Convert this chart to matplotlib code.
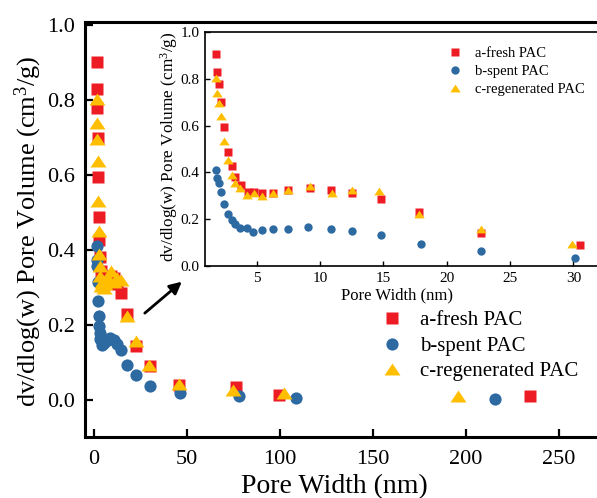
import matplotlib
matplotlib.use("Agg")
import matplotlib.pyplot as plt

plt.rcParams['font.family'] = ['Liberation Serif', 'DejaVu Serif']
plt.rcParams['mathtext.fontset'] = 'custom'
plt.rcParams['mathtext.rm'] = 'Liberation Serif'
plt.rcParams['mathtext.it'] = 'Liberation Serif:italic'

# ---- data (pore width nm, dv/dlog(w) pore volume cm3/g) ----
fresh_x = [1.77, 1.90, 2.03, 2.19, 2.40, 2.74, 3.06, 3.32, 3.74, 4.35, 4.75, 5.42, 6.31, 7.50, 9.20,
           10.86, 12.54, 14.80, 17.79, 22.67, 30.55, 45.8, 76.8, 99.6, 234.8]
fresh_y = [0.903, 0.829, 0.779, 0.700, 0.595, 0.488, 0.427, 0.382, 0.345, 0.318, 0.316, 0.311, 0.314,
           0.325, 0.332, 0.325, 0.311, 0.285, 0.230, 0.144, 0.090, 0.040, 0.034, 0.015, 0.011]

spent_x = [1.77, 1.90, 2.03, 2.16, 2.43, 2.74, 3.06, 3.32, 3.69, 4.21, 4.74, 5.45, 6.31, 7.50, 9.07,
           10.86, 12.54, 14.80, 17.95, 22.67, 30.16, 46.3, 78.2, 108.8, 215.9]
spent_y = [0.411, 0.375, 0.357, 0.315, 0.265, 0.225, 0.197, 0.180, 0.164, 0.163, 0.148, 0.153, 0.158,
           0.160, 0.167, 0.161, 0.150, 0.133, 0.094, 0.066, 0.037, 0.018, 0.011, 0.007, 0.004]

regen_x = [1.77, 1.90, 2.03, 2.16, 2.40, 2.74, 3.06, 3.32, 3.69, 4.21, 4.79, 5.45, 6.31, 7.50, 9.20,
           10.91, 12.54, 14.64, 17.79, 22.67, 29.90, 45.9, 75.0, 102.3, 195.8]
regen_y = [0.803, 0.739, 0.696, 0.639, 0.532, 0.451, 0.389, 0.357, 0.332, 0.304, 0.314, 0.300, 0.311,
           0.325, 0.344, 0.314, 0.325, 0.321, 0.225, 0.158, 0.093, 0.042, 0.028, 0.020, 0.011]

labels = ['a-fresh PAC', 'b-spent PAC', 'c-regenerated PAC']
main_xticks = [0, 50, 100, 150, 200, 250]
main_yticks = [0.0, 0.2, 0.4, 0.6, 0.8, 1.0]
inset_xticks = [5, 10, 15, 20, 25, 30]
inset_yticks = [0.0, 0.2, 0.4, 0.6, 0.8, 1.0]

SERIF = ['Liberation Serif', 'DejaVu Serif']
RED = '#ED1C24'
BLUE = '#2D6AA1'
YEL = '#FFBF00'
TRI = [(0, 0.75), (-1, -0.75), (1, -0.75)]

W, H = 597, 498
fig = plt.figure(figsize=(W / 100, H / 100), dpi=100)

# ---------------- main axes ----------------
L, R, T, B = 85, 597, 22, 437.3
ax = fig.add_axes([L / W, 1 - B / H, (R - L) / W, (B - T) / H])
ax.plot(fresh_x, fresh_y, ls='none', marker='s', ms=8.0, mfc=RED, mec='none', label=labels[0])
ax.plot(spent_x, spent_y, ls='none', marker='o', ms=8.8, mfc=BLUE, mec='none', label=labels[1])
ax.plot(regen_x, regen_y, ls='none', marker=TRI, ms=11.5, mfc=YEL, mec='none', label=labels[2])
ax.set_xlim(-4.6, 270.6)
ax.set_ylim(-0.099, 1.009)
ax.set_xticks(main_xticks)
ax.set_xticklabels([str(v) for v in main_xticks], fontfamily=SERIF)
ax.set_yticks(main_yticks)
ax.set_yticklabels(['%.1f' % v for v in main_yticks], fontfamily=SERIF)
for s in ['left', 'bottom', 'top']:
    ax.spines[s].set_linewidth(2.2)
ax.spines['right'].set_visible(False)
ax.tick_params(direction='in', length=6, width=1.6, labelsize=16, top=False, right=False)
ax.tick_params(axis='x', pad=9)
ax.tick_params(axis='y', pad=7)
ax.set_xlabel('Pore Width (nm)', fontsize=20)
ax.set_ylabel(r'dv/dlog(w) Pore Volume (cm$^3$/g)', fontsize=19)
ax.xaxis.set_label_coords(0.4877, -0.088)
ax.yaxis.set_label_coords(-0.0793, 0.4955)
ax.legend(loc='upper left', bbox_to_anchor=(381.3 / W, 1 - 310.6 / H),
          bbox_transform=fig.transFigure, frameon=False, fontsize=15,
          handlelength=1.0, handletextpad=0.86, labelspacing=0.29, borderpad=0,
          borderaxespad=0)

ax.annotate('', xy=(48.6, 0.321), xytext=(26.4, 0.2275),
            arrowprops=dict(arrowstyle='-|>', color='black', lw=2.0, mutation_scale=18))

# ---------------- inset axes ----------------
iL, iR, iT, iB = 205, 597, 31.7, 266.3
ax2 = fig.add_axes([iL / W, 1 - iB / H, (iR - iL) / W, (iB - iT) / H])
ax2.plot(fresh_x, fresh_y, ls='none', marker='s', ms=5.5, mfc=RED, mec='none', label=labels[0])
ax2.plot(spent_x, spent_y, ls='none', marker='o', ms=6.0, mfc=BLUE, mec='none', label=labels[1])
ax2.plot(regen_x, regen_y, ls='none', marker=TRI, ms=7.5, mfc=YEL, mec='none', label=labels[2])
ax2.set_xlim(0.92, 31.86)
ax2.set_ylim(0, 1)
ax2.set_xticks(inset_xticks)
ax2.set_xticklabels([str(v) for v in inset_xticks], fontfamily=SERIF)
ax2.set_yticks(inset_yticks)
ax2.set_yticklabels(['%.1f' % v for v in inset_yticks], fontfamily=SERIF)
for s in ['left', 'bottom', 'top']:
    ax2.spines[s].set_linewidth(1.2)
ax2.spines['right'].set_visible(False)
ax2.tick_params(direction='in', length=3.5, width=1.0, labelsize=11, pad=4, top=False, right=False)
ax2.set_xlabel('Pore Width (nm)', fontsize=12)
ax2.set_ylabel(r'dv/dlog(w) Pore Volume (cm$^3$/g)', fontsize=12.4)
ax2.xaxis.set_label_coords(0.489, -0.0895)
ax2.yaxis.set_label_coords(-0.064, 0.5085)
ax2.legend(loc='upper left', bbox_to_anchor=(447.7 / W, 1 - 47.2 / H),
           bbox_transform=fig.transFigure, frameon=False, fontsize=10.5,
           handlelength=1.0, handletextpad=0.87, labelspacing=0.31, borderpad=0,
           borderaxespad=0)

fig.savefig('out.png', dpi=100)
